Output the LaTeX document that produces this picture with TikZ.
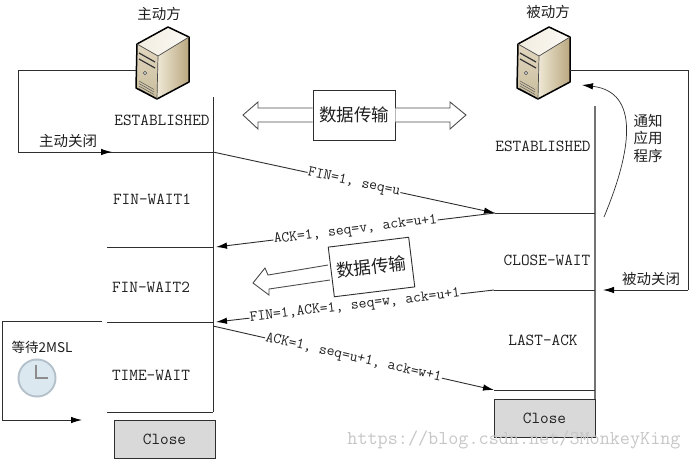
\documentclass[tikz,border=0pt]{standalone}
\usepackage{fontspec}
\newfontfamily\cjk{Noto Sans CJK SC}[Scale=1]
\usetikzlibrary{arrows.meta,calc}
\definecolor{ink}{HTML}{1F1F1F}
\definecolor{line}{HTML}{2E2E2E}
\definecolor{srvtop}{HTML}{F1ECDF}
\definecolor{srvlight}{HTML}{EFE8D6}
\definecolor{srvtan}{HTML}{B9A77F}
\definecolor{srvfront}{HTML}{E2D8C0}
\definecolor{srvfrontd}{HTML}{C9BC9C}
\definecolor{clockfill}{HTML}{DCE8F0}
\definecolor{clockring}{HTML}{B4C0CA}
\tikzset{
  conn/.style={draw=line,line width=0.9pt},
  arr/.style={conn,-{Latex[length=11pt,width=6.5pt,black]}},
  state/.style={font=\fontsize{16.8}{18}\selectfont\ttfamily,text=ink,inner sep=0pt},
  msg/.style={font=\fontsize{15.2}{17}\selectfont\ttfamily,text=ink,fill=white,inner sep=0.5pt,sloped,midway},
  zh/.style={font=\fontsize{14.5}{18}\selectfont\cjk,text=ink,inner sep=0pt,align=center},
  boxzh/.style={font=\fontsize{17.5}{20}\selectfont\cjk,text=ink,draw=line,line width=0.9pt,fill=white,inner sep=0pt},
  closebox/.style={draw=line,line width=1pt,fill=black!15,minimum width=101pt,minimum height=38pt,inner sep=0pt,
    font=\fontsize{16.8}{18}\selectfont\ttfamily,text=ink},
  hollow/.style={draw=line!85,line width=0.9pt,fill=white,line join=miter},
  pics/server/.style={code={
    \path[left color=srvtop,right color=white!70!srvtop] (137,44)--(168,27)--(189,37)--(158,56)--cycle;
    \path[left color=srvlight,right color=srvtan] (158,56)--(189,37)--(189,82)--(157,99)--cycle;
    \path[top color=srvfront,bottom color=srvfrontd] (137,44)--(158,56)--(157,99)--(136,88)--cycle;
    \draw[line width=1.2pt,black!80] (139,53)--(155,62) (139,59)--(155,68);
    \draw[black!70,fill=black!15,line width=0.5pt] (145,73) circle (1.8);
    \foreach \d in {0,2.5,5,7.5}{\draw[black!65,line width=0.5pt] (139,81+\d)--(154,89.5+\d);}
    \draw[line width=1.5pt,black,line join=round] (137,44)--(168,27)--(189,37)--(189,82)--(157,99)--(136,88)--cycle;
    \draw[line width=0.7pt,black!70] (137,44)--(158,56)--(189,37) (158,56)--(157,99);
  }},
}
\begin{document}
\begin{tikzpicture}[x=1pt,y=-1pt]
\useasboundingbox (0,0) rectangle (690,459);
\fill[white] (0,0) rectangle (690,459);

% servers
\pic at (0,0) {server};
\pic at (381,0) {server};
\node[zh] (tA) at (159,14) {主动方};
\node[zh] (tB) at (548,12) {被动方};

% named points
\coordinate (Atop) at (213,97);
\coordinate (Abot) at (213,412);
\coordinate (Btop) at (595,106);
\coordinate (Bbot) at (595,399);
\coordinate (Aclose) at (213,152);
\coordinate (Sa) at (136,70);
\coordinate (Sa1) at (18,70);
\coordinate (Sa2) at (18,152);
\coordinate (Sam) at (112,152);
\coordinate (Sb) at (570,70);
\coordinate (Sb1) at (688,70);
\coordinate (Sb2) at (688,290);
\coordinate (Sbm) at (603,290);
\coordinate (R1) at (495,213);
\coordinate (R1e) at (595,213);
\coordinate (R2) at (494,290);
\coordinate (R2e) at (595,290);
\coordinate (R3) at (494,390);
\coordinate (R3e) at (595,390);
\coordinate (L1) at (107,247);
\coordinate (L1e) at (213,247);
\coordinate (L2) at (107,322);
\coordinate (L2e) at (213,322);
\coordinate (L3) at (107,412);
\coordinate (W1) at (102,321);
\coordinate (W2) at (2,321);
\coordinate (W3) at (2,420);
\coordinate (W4) at (82,420);
\coordinate (N1) at (604,217);
\coordinate (N2) at (582,85);
\coordinate (A4) at (213,326);

% timelines
\draw[conn] (Atop)--(Abot);
\draw[conn,draw=black!55,line width=1.1pt] (Btop)--(Bbot);

% loops
\draw[conn] (Sa)--(Sa1)--(Sa2)--(Aclose);
\draw[arr] (Sa2)--(Sam);
\draw[conn] (Sb)--(Sb1)--(Sb2);
\draw[arr] (Sb2)--(Sbm);
\draw[conn] (W1)--(W2)--(W3);
\draw[arr] (W3)--(W4);
\draw[arr,line width=0.7pt] (N1) .. controls (632,150) and (640,92) .. (N2);

% horizontals
\draw[conn] (L1)--(L1e);
\draw[conn] (L2)--(L2e);
\draw[conn] (L3)--(Abot);
\draw[conn] (R1)--(R1e);
\draw[conn] (R2)--(R2e);
\draw[conn] (R3)--(R3e);

% messages
\draw[arr] (Aclose)--(R1) node[msg] (m1) {FIN=1, seq=u};
\draw[arr] (R1)--(216,247) node[msg] (m2) {ACK=1, seq=v, ack=u+1};
\draw[arr] (R2)--(216,322) node[msg] (m3) {FIN=1,ACK=1, seq=w, ack=u+1};
\draw[arr] (A4)--(R3) node[msg] (m4) {ACK=1, seq=u+1, ack=w+1};

% data transfer, top
\node[boxzh,minimum width=82pt,minimum height=50pt] (dt1) at (354,115) {数据传输};
\draw[hollow] (dt1.west |- 0,108)--(258,108)--(258,102)--(243,115)--(258,129)--(258,122)--(dt1.west |- 0,122);
\draw[hollow] (dt1.east |- 0,108)--(450,108)--(450,102)--(466,115)--(450,129)--(450,122)--(dt1.east |- 0,122);

% data transfer, tilted
\draw[hollow] (328,265)--(268,275)--(265,268)--(253,283)--(269,295)--(269,289)--(330,280);
\node[boxzh,minimum width=81pt,minimum height=50pt,rotate=7] (dt2) at (371.5,267) {数据传输};

% states
\node[state] (s1) at (162,120) {ESTABLISHED};
\node[state] (s2) at (152,199) {FIN-WAIT1};
\node[state] (s3) at (151,287) {FIN-WAIT2};
\node[state] (s4) at (151,375) {TIME-WAIT};
\node[state] (s5) at (543,146) {ESTABLISHED};
\node[state] (s6) at (547,260) {CLOSE-WAIT};
\node[state] (s7) at (543,340) {LAST-ACK};

% close boxes
\node[closebox] (c1) at (164.5,439) {Close};
\node[closebox] (c2) at (544.5,418) {Close};

% side labels
\node[zh] (z1) at (68,141) {主动关闭};
\node[zh] (z2) at (651,279) {被动关闭};
\node[zh,font=\fontsize{14.5}{17.5}\selectfont\cjk] (z3) at (648,138) {通知\\应用\\程序};
\node[zh,font=\fontsize{13.5}{16}\selectfont\cjk] (z4) at (42,347) {等待2MSL};

% clock
\fill[clockring] (37,378) circle (19.5);
\fill[clockfill] (37,378) circle (17.5);
\draw[black!45,line width=1.1pt] (36,365)--(36,378)--(48,378);

% watermark
\node[font=\fontsize{19.6}{22}\selectfont\ttfamily,text=black!22,inner sep=0pt] (wm) at (514,440) {https://blog.csdn.net/3MonkeyKing};
\end{tikzpicture}
\end{document}
